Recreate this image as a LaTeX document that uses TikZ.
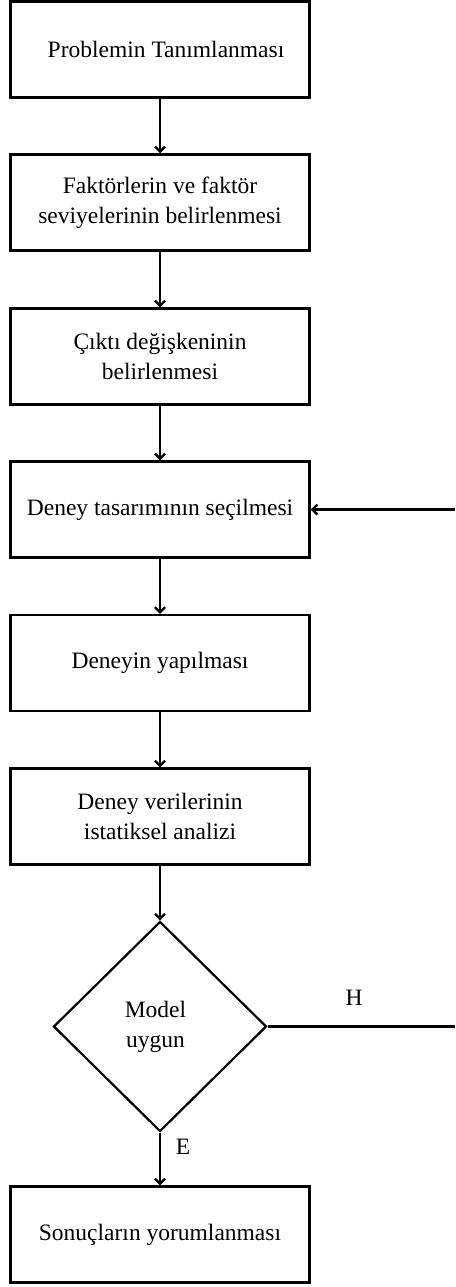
\documentclass[tikz,border=0pt]{standalone}
\usepackage{fontspec}
\setmainfont{Liberation Serif}
\usetikzlibrary{shapes.geometric,arrows.meta}
\begin{document}
\begin{tikzpicture}[x=1pt,y=-1pt,
  box/.style={draw,line width=2.5pt,minimum width=299pt,minimum height=96pt,align=center,inner sep=0pt,font=\fontsize{23.5}{30}\selectfont},
  dec/.style={draw,diamond,line width=2.2pt,minimum width=213pt,minimum height=210pt,inner sep=0pt,align=center,font=\fontsize{23.5}{30}\selectfont},
  lbl/.style={font=\fontsize{23.5}{30}\selectfont,inner sep=0pt},
  arr/.style={line width=2.3pt,-{Straight Barb[length=5pt,width=10pt,line width=2.3pt]}},
  ln/.style={line width=2.3pt}]
\useasboundingbox (0,0) rectangle (455,1287);
\node[box] (b1) at (160,49.5) {\hspace*{12pt}Problemin Tanımlanması};
\node[box] (b2) at (160,202.5) {Faktörlerin ve faktör\\seviyelerinin belirlenmesi};
\node[box] (b3) at (160,356.5) {Çıktı değişkeninin\\belirlenmesi};
\node[box] (b4) at (160,509.5) {Deney tasarımının seçilmesi};
\node[box] (b5) at (160,663) {Deneyin yapılması};
\node[box] (b6) at (160,816.5) {Deney verilerinin\\istatiksel analizi};
\node[dec] (d) at (160,1026.5) {Model\hspace*{9pt}\\uygun\hspace*{9pt}};
\node[box] (b7) at (160,1234.5) {Sonuçların yorumlanması};
\node[lbl] (h) at (354,998) {H};
\node[lbl] (e) at (183,1147) {E};
\coordinate (r1) at (455,509.5);
\coordinate (r2) at (455,1026.5);
\draw[arr] (b1) -- (b2);
\draw[arr] (b2) -- (b3);
\draw[arr] (b3) -- (b4);
\draw[arr] (b4) -- (b5);
\draw[arr] (b5) -- (b6);
\draw[arr] (b6) -- (d);
\draw[arr] (d) -- (b7);
\draw[ln] (d.east) -- (r2);
\draw[arr] (r1) -- (b4.east);
\end{tikzpicture}
\end{document}
